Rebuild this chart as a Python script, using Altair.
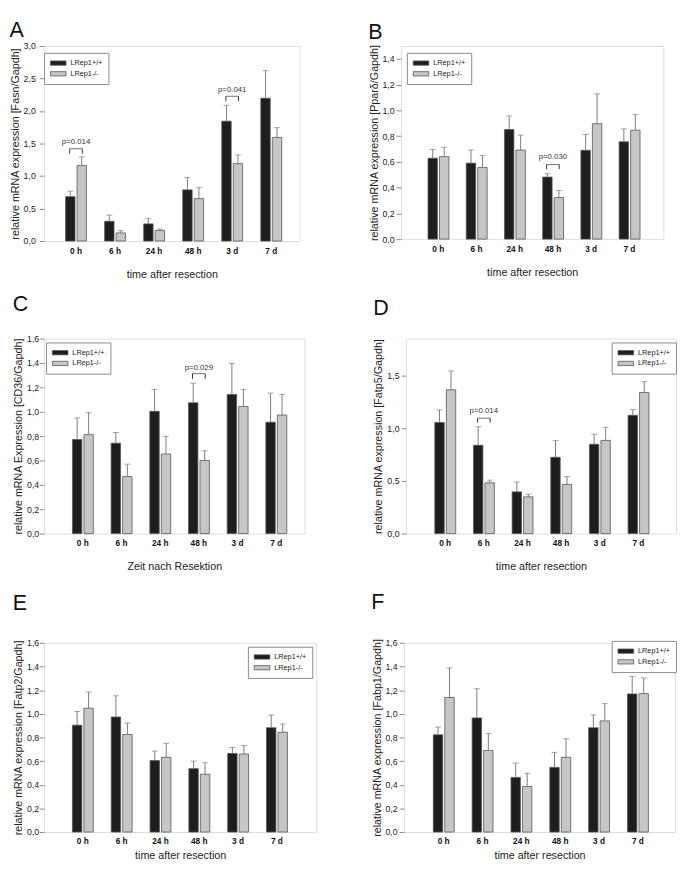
import altair as alt
import pandas as pd

FONT = "Liberation Sans"
times = ["0 h", "6 h", "24 h", "48 h", "3 d", "7 d"]
genotypes = ["LRep1+/+", "LRep1-/-"]

# Panel A  Fasn
fasn_wt = [0.683, 0.304, 0.264, 0.787, 1.844, 2.197]
fasn_wt_err = [0.084, 0.095, 0.085, 0.190, 0.244, 0.424]
fasn_ko = [1.161, 0.125, 0.164, 0.653, 1.191, 1.594]
fasn_ko_err = [0.134, 0.034, 0.020, 0.169, 0.134, 0.150]
# Panel B  Ppar
ppar_wt = [0.628, 0.590, 0.851, 0.482, 0.690, 0.756]
ppar_wt_err = [0.069, 0.102, 0.105, 0.026, 0.123, 0.100]
ppar_ko = [0.641, 0.556, 0.692, 0.323, 0.897, 0.846]
ppar_ko_err = [0.072, 0.093, 0.116, 0.054, 0.231, 0.121]
# Panel C  CD36
cd36_wt = [0.772, 0.742, 1.003, 1.073, 1.142, 0.914]
cd36_wt_err = [0.177, 0.088, 0.180, 0.161, 0.253, 0.239]
cd36_ko = [0.812, 0.468, 0.653, 0.600, 1.043, 0.973]
cd36_ko_err = [0.180, 0.102, 0.145, 0.080, 0.140, 0.169]
# Panel D  Fatp5
fatp5_wt = [1.054, 0.838, 0.396, 0.724, 0.847, 1.122]
fatp5_wt_err = [0.118, 0.176, 0.093, 0.160, 0.096, 0.056]
fatp5_ko = [1.364, 0.482, 0.349, 0.467, 0.884, 1.339]
fatp5_ko_err = [0.179, 0.025, 0.025, 0.074, 0.124, 0.102]
# Panel E  Fatp2
fatp2_wt = [0.904, 0.973, 0.605, 0.536, 0.665, 0.882]
fatp2_wt_err = [0.116, 0.179, 0.080, 0.064, 0.050, 0.108]
fatp2_ko = [1.047, 0.825, 0.632, 0.489, 0.660, 0.844]
fatp2_ko_err = [0.138, 0.096, 0.118, 0.097, 0.071, 0.069]
# Panel F  Fabp1
fabp1_wt = [0.822, 0.965, 0.462, 0.547, 0.882, 1.168]
fabp1_wt_err = [0.066, 0.247, 0.121, 0.127, 0.108, 0.149]
fabp1_ko = [1.138, 0.690, 0.385, 0.632, 0.940, 1.171]
fabp1_ko_err = [0.250, 0.143, 0.113, 0.157, 0.146, 0.132]

# significance annotations: (time, label, text level, bracket level, leg end)
annot_A = [("0 h", "p=0.014", 1.53, 1.42, 1.345), ("3 d", "p=0.041", 2.317, 2.227, 2.152)]
annot_B = [("48 h", "p=0.030", 0.636, 0.579, 0.544)]
annot_C = [("48 h", "p=0.029", 1.36, 1.312, 1.27)]
annot_D = [("6 h", "p=0.014", 1.163, 1.095, 1.054)]

ticks_A = [0.0, 0.5, 1.0, 1.5, 2.0, 2.5, 3.0]
ticks_B = [0.0, 0.2, 0.4, 0.6, 0.8, 1.0, 1.2, 1.4]
ticks_16 = [0.0, 0.2, 0.4, 0.6, 0.8, 1.0, 1.2, 1.4, 1.6]
ticks_D = [0.0, 0.5, 1.0, 1.5]

GRID = "#8a8a8a"


def panel(letter, ytitle, xtitle, wt, wt_err, ko, ko_err, ymax, yticks,
          width, height, pad_outer, align, lx, ly, lpad, annots, toff,
          x_lpad=5.5, x_tpad=14):
    rows = []
    for g, vals, errs in [(genotypes[0], wt, wt_err), (genotypes[1], ko, ko_err)]:
        for t, v, e in zip(times, vals, errs):
            rows.append({"time": t, "genotype": g, "value": v, "upper": v + e})
    df = pd.DataFrame(rows)

    xscale = alt.Scale(domain=times, paddingInner=0.465, paddingOuter=pad_outer, align=align)
    x = alt.X("time:N", sort=times, scale=xscale,
              axis=alt.Axis(title=xtitle, labelAngle=0, labelFontWeight="bold",
                            labelFontSize=8.5, labelColor="#111", ticks=False, domain=False,
                            labelPadding=x_lpad, titlePadding=x_tpad, titleFontSize=11,
                            titleFontWeight="normal", titleColor="#222", labelFont=FONT,
                            titleFont=FONT))
    xs = alt.X("time:N", sort=times)
    y = alt.Y("value:Q", scale=alt.Scale(domain=[0, ymax], nice=False, zero=True),
              axis=alt.Axis(values=yticks, tickCount=len(yticks), title=ytitle,
                            format=".1f", labelOverlap=False,
                            labelFontSize=9, labelColor="#222", labelPadding=lpad,
                            tickSize=5, tickColor=GRID, domain=False, grid=False,
                            titleFontSize=11, titleFontWeight="normal", titleColor="#222",
                            titlePadding=3, labelFont=FONT, titleFont=FONT))
    xo = alt.XOffset("genotype:N", sort=genotypes,
                     scale=alt.Scale(domain=genotypes, paddingInner=0.18, paddingOuter=0))

    base = alt.Chart(df)
    bars = base.mark_bar(stroke="#555", strokeWidth=0.8).encode(
        x=x, y=y, xOffset=xo,
        color=alt.Color("genotype:N", sort=genotypes,
                        scale=alt.Scale(domain=genotypes, range=["#1e1e1e", "#c6c6c6"]),
                        legend=alt.Legend(title=None, orient="none", legendX=lx, legendY=ly,
                                          symbolType="M-1,-0.55H3V0.55H-1Z", symbolSize=64,
                                          symbolStrokeColor="#555", symbolStrokeWidth=0.8,
                                          labelFontSize=7.5, labelFont=FONT, labelColor="#222",
                                          padding=6, rowPadding=2, labelOffset=12,
                                          strokeColor=GRID, fillColor="white")))
    err = base.mark_rule(color="#7a7a7a", strokeWidth=1).encode(
        x=xs, xOffset=xo, y="value:Q", y2="upper:Q")
    cap = base.mark_tick(color="#7a7a7a", size=6, thickness=1).encode(
        x=xs, xOffset=xo, y="upper:Q")
    layers = [bars, err, cap]

    if annots:
        adf = pd.DataFrame([{"time": a[0], "label": a[1], "ytext": a[2], "ytop": a[3], "yleg": a[4]}
                            for a in annots])
        ab = alt.Chart(adf)
        layers += [
            ab.mark_tick(color="#333", size=13, thickness=1).encode(x=xs, y="ytop:Q"),
            ab.mark_rule(color="#333", strokeWidth=1, xOffset=-6.5).encode(
                x=xs, y="ytop:Q", y2="yleg:Q"),
            ab.mark_rule(color="#333", strokeWidth=1, xOffset=6.5).encode(
                x=xs, y="ytop:Q", y2="yleg:Q"),
            ab.mark_text(fontSize=8, font=FONT, color="#333", baseline="middle").encode(
                x=xs, y="ytext:Q", text="label:N"),
        ]

    return alt.layer(*layers).properties(
        width=width, height=height,
        title=alt.TitleParams(letter, anchor="start", frame="bounds", fontSize=22,
                              fontWeight="normal", font=FONT, color="#111", offset=toff,
                              baseline="top"))


A = panel("A", "relative mRNA expression [Fasn/Gapdh]", "time after resection",
          fasn_wt, fasn_wt_err, fasn_ko, fasn_ko_err, 3.0, ticks_A,
          262, 200, 0.504, 0.546, 0, 7, 4, annot_A, 0)
B = panel("B", "relative mRNA expression [Pparδ/Gapdh]", "time after resection",
          ppar_wt, ppar_wt_err, ppar_ko, ppar_ko_err, 1.5, ticks_B,
          269, 198, 0.664, 0.532, 6, 7, 2, annot_B, 0)
C = panel("C", "relative mRNA Expression [CD36/Gapdh]", "Zeit nach Resektion",
          cd36_wt, cd36_wt_err, cd36_ko, cd36_ko_err, 1.6, ticks_16,
          267, 200, 0.598, 0.613, 2, 4, 0.5, annot_C, 19)
D = panel("D", "relative mRNA expression [Fatp5/Gapdh]", "time after resection",
          fatp5_wt, fatp5_wt_err, fatp5_ko, fatp5_ko_err, 1.85, ticks_D,
          277, 200, 0.727, 0.515, 211, 4, 2, annot_D, 19)
E = panel("E", "relative mRNA expression [Fatp2/Gapdh]", "time after resection",
          fatp2_wt, fatp2_wt_err, fatp2_ko, fatp2_ko_err, 1.6, ticks_16,
          279, 194, 0.737, 0.495, 209, 4, 0.5, [], 25, x_lpad=4.5, x_tpad=5)
F = panel("F", "relative mRNA expression [Fabp1/Gapdh]", "time after resection",
          fabp1_wt, fabp1_wt_err, fabp1_ko, fabp1_ko_err, 1.6, ticks_16,
          278, 194, 0.723, 0.523, 213, -2, 2, [], 25, x_lpad=4.5, x_tpad=5)


def indep(c):
    return c.resolve_scale(color="independent").resolve_legend(color="independent")


row1 = indep(alt.hconcat(A, B, spacing=68))
row2 = indep(alt.hconcat(C, D, spacing=68))
row3 = indep(alt.hconcat(E, F, spacing=54))
top = indep(alt.vconcat(row1, row2, spacing=13))
chart = indep(alt.vconcat(top, row3, spacing=18)).properties(padding=0).configure_view(
    stroke=GRID, strokeWidth=1).configure_axis(labelOverlap=False).configure(
    font=FONT, background="white",
    locale=alt.Locale(number=alt.NumberLocale(decimal=",", thousands=".", grouping=[3],
                                              currency=["", " €"])))

chart.save("out.html", embed_options={"renderer": "svg", "actions": False})
